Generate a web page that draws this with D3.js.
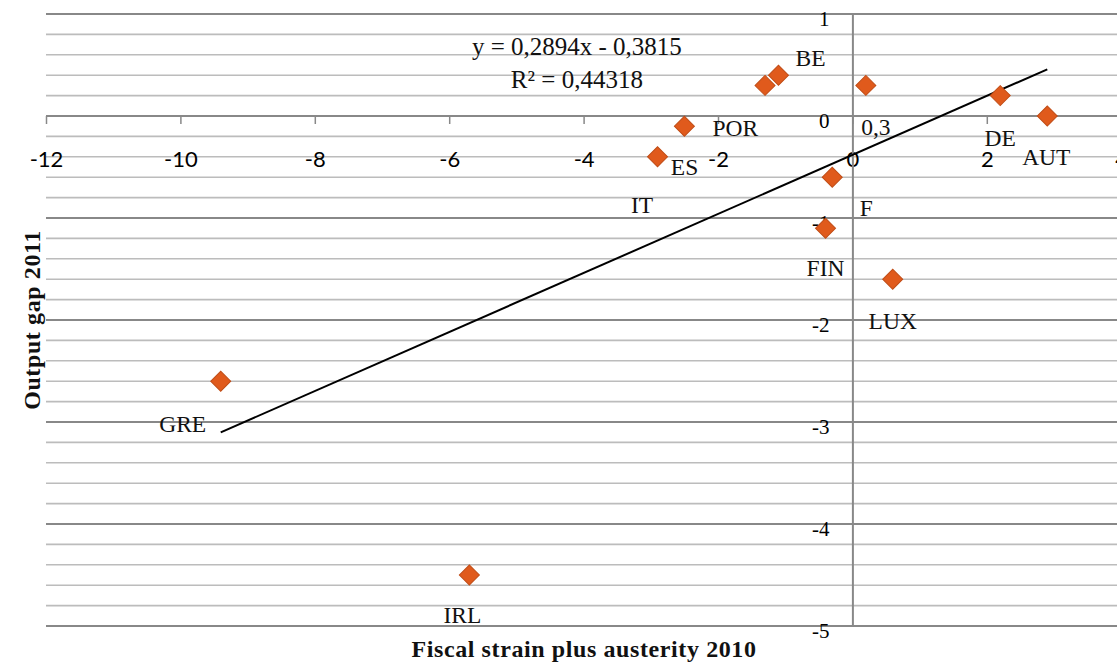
<!DOCTYPE html>
<html>
<head>
<meta charset="utf-8">
<script src="https://cdn.jsdelivr.net/npm/d3@7"></script>
<style>
  html, body { margin: 0; padding: 0; background: #fff; }
  svg { display: block; }
</style>
</head>
<body>
<svg id="chart" width="1117" height="664"></svg>
<script>
// ---- data ----
const countries = ["GRE", "IRL", "POR", "ES", "IT", "BE", "NL", "DE", "AUT", "F", "FIN", "LUX"];
const fiscalStrain = [-9.4, -5.7, -2.5, -2.9, -1.3, -1.1, 0.2, 2.2, 2.9, -0.3, -0.4, 0.6];
const outputGap = [-2.6, -4.5, -0.1, -0.4, 0.3, 0.4, 0.3, 0.2, 0.0, -0.6, -1.1, -1.6];
const pointLabels = ["GRE", "IRL", "POR", "ES", "IT", "BE", "0,3", "DE", "AUT", "F", "FIN", "LUX"];
const xTicks = [-12, -10, -8, -6, -4, -2, 0, 2, 4];
const yTicks = [-5, -4, -3, -2, -1, 0, 1];
const trendSlope = 0.2894;
const trendIntercept = -0.3815;
const equationText = "y = 0,2894x - 0,3815";
const r2Text = "R\u00B2 = 0,44318";
const xTitle = "Fiscal strain plus austerity 2010";
const yTitle = "Output gap 2011";

// ---- layout (pixel offsets of data labels relative to their marker) ----
const labelOffsets = [[-38, 43], [-7, 40], [51, 2], [27, 10], [-123, 120], [32, -17],
                      [10, 42], [0, 42], [-1, 41], [34, 31], [0, 40], [0, 42]];

const svg = d3.select("#chart");
const x = d3.scaleLinear().domain([-12, 4]).range([46, 46 + 16 * 67.2]);
const y = d3.scaleLinear().domain([-5, 1]).range([626, 14]);
const W = 1117;

const serif = "'Liberation Serif', 'DejaVu Serif', serif";
const sans = "Lato, 'Liberation Sans', sans-serif";

// minor gridlines every 0.2
const minor = d3.range(-50, 11, 2).map(v => v / 10).filter(v => !yTicks.includes(Math.round(v * 10) / 10));
svg.append("g").selectAll("line").data(minor).join("line")
  .attr("x1", x(-12)).attr("x2", W)
  .attr("y1", d => y(d)).attr("y2", d => y(d))
  .attr("stroke", "#bcbcbc").attr("stroke-width", 1.6);
// major gridlines
svg.append("g").selectAll("line").data(yTicks).join("line")
  .attr("x1", x(-12)).attr("x2", W)
  .attr("y1", d => y(d)).attr("y2", d => y(d))
  .attr("stroke", "#888").attr("stroke-width", 2);

// x axis at y = 0
const xAxis = svg.append("g").attr("transform", `translate(0,${y(0)})`)
  .call(d3.axisBottom(x).tickValues(xTicks).tickSize(8).tickFormat(d3.format("d")));
xAxis.select(".domain").remove();
xAxis.selectAll(".tick line").attr("stroke", "#888").attr("stroke-width", 1.5);
xAxis.selectAll(".tick text")
  .attr("y", 43).attr("dy", "0.35em")
  .attr("font-family", sans).attr("font-size", 22).attr("fill", "#000")
  .text(d => d < 0 ? "-" + Math.abs(d) : d);

// y axis at x = 0
const yAxis = svg.append("g").attr("transform", `translate(${x(0)},0)`)
  .call(d3.axisLeft(y).tickValues(yTicks).tickSize(0).tickPadding(23).tickFormat(d3.format("d")));
yAxis.select(".domain").attr("stroke", "#888").attr("stroke-width", 2);
yAxis.selectAll(".tick text")
  .attr("y", 5).attr("dy", "0.32em")
  .attr("font-family", serif).attr("font-size", 21).attr("fill", "#000")
  .text(d => d < 0 ? "-" + Math.abs(d) : d);

// trend line
const xMin = d3.min(fiscalStrain), xMax = d3.max(fiscalStrain);
svg.append("line")
  .attr("x1", x(xMin)).attr("y1", y(trendSlope * xMin + trendIntercept))
  .attr("x2", x(xMax)).attr("y2", y(trendSlope * xMax + trendIntercept))
  .attr("stroke", "#000").attr("stroke-width", 2);

// points
const pts = countries.map((c, i) => ({ c, x: fiscalStrain[i], y: outputGap[i], label: pointLabels[i], off: labelOffsets[i] }));
const diamond = d3.symbol().type(d3.symbolSquare).size(200);
svg.append("g").selectAll("path").data(pts).join("path")
  .attr("d", diamond)
  .attr("transform", d => `translate(${x(d.x)},${y(d.y)}) rotate(45)`)
  .attr("fill", "#E05A1C").attr("stroke", "#C04D17").attr("stroke-width", 1);

// data labels
svg.append("g").selectAll("text").data(pts).join("text")
  .attr("x", d => x(d.x) + d.off[0])
  .attr("y", d => y(d.y) + d.off[1])
  .attr("text-anchor", "middle").attr("dominant-baseline", "central")
  .attr("font-family", serif).attr("font-size", 23.5).attr("fill", "#111")
  .text(d => d.label);

// equation
svg.append("text").attr("x", x(-4.1)).attr("y", 46)
  .attr("text-anchor", "middle").attr("dominant-baseline", "central")
  .attr("font-family", serif).attr("font-size", 25).attr("fill", "#111").text(equationText);
svg.append("text").attr("x", x(-4.1)).attr("y", 79)
  .attr("text-anchor", "middle").attr("dominant-baseline", "central")
  .attr("font-family", serif).attr("font-size", 25).attr("fill", "#111").text(r2Text);

// axis titles
svg.append("text").attr("x", 584).attr("y", 657)
  .attr("text-anchor", "middle")
  .attr("font-family", serif).attr("font-weight", "bold").attr("font-size", 24)
  .attr("letter-spacing", 0.6).attr("fill", "#111")
  .text(xTitle);
svg.append("text").attr("transform", "translate(40,320) rotate(-90)")
  .attr("text-anchor", "middle")
  .attr("font-family", serif).attr("font-weight", "bold").attr("font-size", 24)
  .attr("letter-spacing", 0.6).attr("fill", "#111")
  .text(yTitle);
</script>
</body>
</html>
